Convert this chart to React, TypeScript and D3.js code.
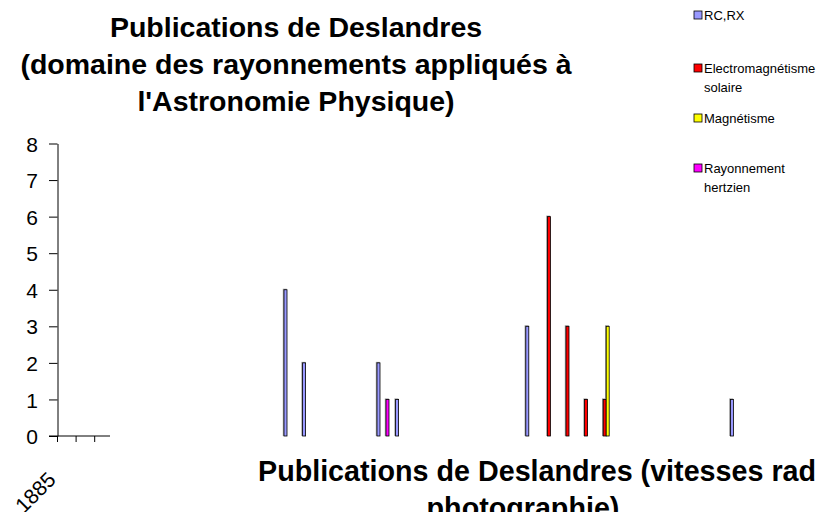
import React, { useEffect, useRef } from "react";
import * as d3 from "d3";

// categories (years) on the x axis
const years = [
  1885, 1886, 1887, 1888, 1889, 1890, 1891, 1892, 1893, 1894, 1895, 1896, 1897,
  1898, 1899, 1900, 1901, 1902, 1903, 1904, 1905, 1906, 1907, 1908, 1909, 1910,
  1911, 1912, 1913, 1914, 1915, 1916, 1917, 1918, 1919, 1920, 1921,
];
const seriesNames = ["RC,RX", "Electromagnétisme solaire", "Magnétisme", "Rayonnement hertzien"];
const seriesColors = ["#9999FF", "#FF0000", "#FFFF00", "#FF00FF"];

const rcrxYears = [1897, 1898, 1902, 1903, 1910, 1921];
const rcrxValues = [4, 2, 2, 1, 3, 1];
const electroYears = [1911, 1912, 1913, 1914];
const electroValues = [6, 3, 1, 1];
const magnYears = [1914];
const magnValues = [3];
const hertzYears = [1902];
const hertzValues = [1];

const yTicks = [0, 1, 2, 3, 4, 5, 6, 7, 8];

const App = () => {
  const svgRef = useRef<SVGSVGElement>(null);

  useEffect(() => {
    document.body.style.margin = "0";
    const width = 816;
    const height = 512;
    const font = "Arial, 'Liberation Sans', sans-serif";

    const svg = d3.select(svgRef.current);
    svg.selectAll("*").remove();
    svg.attr("width", width).attr("height", height);

    const series = [
      { name: seriesNames[0], years: rcrxYears, values: rcrxValues },
      { name: seriesNames[1], years: electroYears, values: electroValues },
      { name: seriesNames[2], years: magnYears, values: magnValues },
      { name: seriesNames[3], years: hertzYears, values: hertzValues },
    ];
    const color = d3.scaleOrdinal<string, string>().domain(seriesNames).range(seriesColors);

    const step = 18.6;
    const x0 = d3
      .scaleBand()
      .domain(years.map(String))
      .range([57.5, 57.5 + step * years.length]);
    const x1 = d3
      .scaleBand()
      .domain(seriesNames)
      .range([0, x0.bandwidth()])
      .paddingOuter(1.1);
    const y = d3.scaleLinear().domain([0, 8]).range([436, 143.5]);

    // titles
    const title = svg
      .append("text")
      .attr("font-family", font)
      .attr("font-size", 28.5)
      .attr("font-weight", "bold")
      .attr("text-anchor", "middle");
    ["Publications de Deslandres", "(domaine des rayonnements appliqués à", "l'Astronomie Physique)"].forEach(
      (t, i) => {
        title.append("tspan").attr("x", 296).attr("y", 37 + i * 37).text(t);
      }
    );

    // bottom title, clipped by the picture edge as in the original
    svg
      .append("text")
      .attr("font-family", font)
      .attr("font-size", 28.7)
      .attr("font-weight", "bold")
      .attr("x", 258)
      .attr("y", 481)
      .text("Publications de Deslandres (vitesses radiales et");
    svg
      .append("text")
      .attr("font-family", font)
      .attr("font-size", 28.7)
      .attr("font-weight", "bold")
      .attr("text-anchor", "middle")
      .attr("x", 523)
      .attr("y", 518)
      .text("photographie)");

    // y axis
    const yAxis = svg
      .append("g")
      .attr("transform", "translate(57.5,0)")
      .call(d3.axisLeft(y).tickValues(yTicks).tickSize(8.5).tickSizeOuter(0).tickPadding(11).tickFormat(d3.format("d")));
    yAxis.select(".domain").attr("stroke", "#000");
    yAxis.selectAll(".tick line").attr("stroke", "#000");
    yAxis
      .selectAll(".tick text")
      .attr("font-family", font)
      .attr("font-size", 21)
      .attr("fill", "#000")
      .attr("dy", "0.36em");

    // x axis (only the first categories are drawn)
    const xa = svg.append("g");
    xa.append("line").attr("x1", 49).attr("x2", 110).attr("y1", y(0)).attr("y2", y(0)).attr("stroke", "#000");
    xa.selectAll("line.tk")
      .data(years.slice(0, 3))
      .join("line")
      .attr("class", "tk")
      .attr("x1", (d) => x0(String(d))!)
      .attr("x2", (d) => x0(String(d))!)
      .attr("y1", y(0))
      .attr("y2", y(0) + 6)
      .attr("stroke", "#000");
    xa.append("text")
      .attr("transform", `translate(${x0(String(years[0]))! - 0.5},481) rotate(-45)`)
      .attr("text-anchor", "end")
      .attr("font-family", font)
      .attr("font-size", 21)
      .text(String(years[0]));

    // bars
    const bars = series.flatMap((s) => s.years.map((yr, i) => ({ name: s.name, year: yr, value: s.values[i] })));
    const g = svg.append("g");
    g.selectAll("rect.shadow")
      .data(bars)
      .join("rect")
      .attr("class", "shadow")
      .attr("x", (d) => x0(String(d.year))! + x1(d.name)! - 1.2)
      .attr("y", (d) => y(d.value) - 1)
      .attr("width", x1.bandwidth() + 1)
      .attr("height", (d) => y(0) - y(d.value) + 1)
      .attr("fill", "#999");
    g.selectAll("rect.bar")
      .data(bars)
      .join("rect")
      .attr("class", "bar")
      .attr("x", (d) => x0(String(d.year))! + x1(d.name)!)
      .attr("y", (d) => y(d.value))
      .attr("width", x1.bandwidth())
      .attr("height", (d) => y(0) - y(d.value))
      .attr("fill", (d) => color(d.name))
      .attr("stroke", "#000")
      .attr("stroke-width", 0.8);

    // legend
    const legendLines = [["RC,RX"], ["Electromagnétisme", "solaire"], ["Magnétisme"], ["Rayonnement", "hertzien"]];
    const legendY = [15, 68, 118, 168];
    const legend = svg.append("g");
    seriesNames.forEach((name, i) => {
      legend
        .append("rect")
        .attr("x", 694)
        .attr("y", legendY[i] - 4)
        .attr("width", 8)
        .attr("height", 8)
        .attr("fill", color(name))
        .attr("stroke", "#000")
        .attr("stroke-width", 0.8);
      const t = legend
        .append("text")
        .attr("font-family", font)
        .attr("font-size", 13);
      legendLines[i].forEach((line, j) => {
        t.append("tspan").attr("x", 704).attr("y", legendY[i] + 4.6 + j * 19).text(line);
      });
    });
  }, []);

  return <svg ref={svgRef} style={{ position: "absolute", left: 0, top: 0, overflow: "hidden" }}></svg>;
};

export default App;
